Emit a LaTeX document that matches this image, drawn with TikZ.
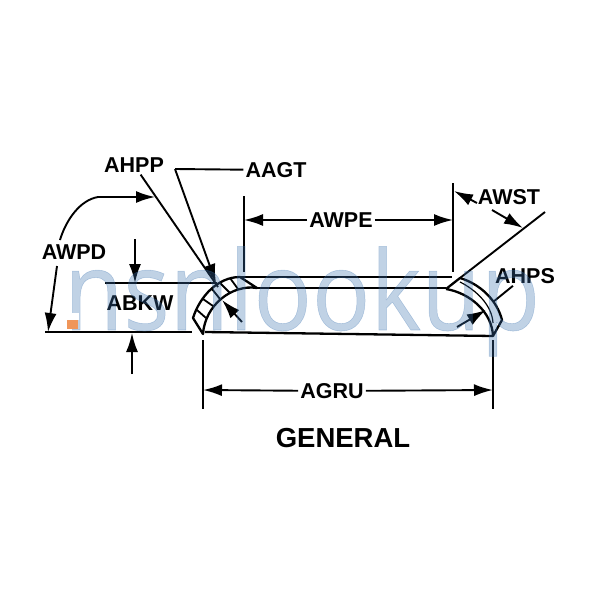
\documentclass[tikz,border=0pt]{standalone}
\usepackage{fontspec}
\setmainfont{Liberation Sans}
\newfontfamily\wmfont[FakeBold=0.5]{Open Sans}
\usetikzlibrary{arrows.meta}
\definecolor{wmblue}{RGB}{60,115,175}
\definecolor{wmorange}{RGB}{240,150,90}
\tikzset{>={Latex[length=19pt,width=12pt]}}
\tikzset{
lbl/.style={font=\fontsize{21.5}{21.5}\selectfont\bfseries, inner sep=2pt, text=black},
dim/.style={line width=1.9pt, ->},
ext/.style={line width=1.9pt},
part/.style={line width=2.3pt, line join=round}
}
\begin{document}
\begin{tikzpicture}[x=1pt,y=-1pt]
\useasboundingbox (0,0) rectangle (600,600);
% part outline
\draw[part] (240,277) -- (452,277);
\draw[part] (257,288) -- (446,288);
\draw[part] (205,332) -- (493,336);
\draw[part] (193,318) .. controls (200,296) and (218,277) .. (240,277) -- (257,288)
.. controls (232,284) and (205,305) .. (203,334) -- cycle;
\draw[part] (446,289) -- (460,278) .. controls (480,284) and (497,300) .. (502,320) -- (493,336)
.. controls (492,312) and (470,293) .. (446,289);
\draw[line width=1.2pt] (460,282) .. controls (476,290) and (492,305) .. (493,323);
\foreach \ax/\ay/\bx/\by in {197/310/206/318, 203/299/213/306, 212/289/220/299, 220/283/230/293, 230/278/238/289}
  \draw[line width=1.8pt] (\ax,\ay) -- (\bx,\by);
% labels
\node[lbl] (ahpp) at (134,165) {AHPP};
\node[lbl] (aagt) at (276,170) {AAGT};
\node[lbl] (awpe) at (341,220) {AWPE};
\node[lbl] (awst) at (509,197) {AWST};
\node[lbl] (awpd) at (74,252) {AWPD};
\node[lbl] (abkw) at (140,303) {ABKW};
\node[lbl] (ahps) at (525,276) {AHPS};
\node[lbl] (agru) at (332,391) {AGRU};
\node[font=\fontsize{27.5}{27.5}\selectfont\bfseries, inner sep=0pt] (general) at (343,438) {GENERAL};
% dimension points
\coordinate (agruA) at (203,340);
\coordinate (agruB) at (203,409);
\coordinate (agruC) at (493,340);
\coordinate (agruD) at (493,409);
\coordinate (agruL) at (203,390);
\coordinate (agruR) at (493,390);
\coordinate (awpeA) at (244,196);
\coordinate (awpeB) at (244,272);
\coordinate (awpeC) at (453,183);
\coordinate (awpeD) at (453,272);
\coordinate (awpeL) at (244,220);
\coordinate (awpeR) at (453,220);
\coordinate (awstA) at (545,212);
\coordinate (awstB) at (460,278);
\coordinate (awstL) at (454,191);
\coordinate (awstU) at (477,203);
\coordinate (awstR) at (523,228);
\coordinate (awstS) at (492,210);
\coordinate (ahppT) at (218,287);
\coordinate (aagtK) at (175,169);
\coordinate (aagtT) at (216,283);
\coordinate (awpdK) at (98,197);
\coordinate (awpdT) at (155,197);
\coordinate (awpdS) at (60,240);
\coordinate (awpdU) at (57,266);
\coordinate (awpdB) at (48,332);
\coordinate (basA) at (45,332);
\coordinate (basB) at (192,332);
\coordinate (topA) at (105,283);
\coordinate (topB) at (217,283);
\coordinate (abkwS) at (135,239);
\coordinate (abkwT) at (135,283);
\coordinate (abkwU) at (132,374);
\coordinate (abkwV) at (132,333);
\coordinate (ahppS) at (242,322);
\coordinate (ahppU) at (222,300);
\coordinate (ahpsK) at (493,302);
\coordinate (ahpsS) at (457,327);
\coordinate (ahpsT) at (486,310);
% connectors
\draw[ext] (agruA) -- (agruB);
\draw[ext] (agruC) -- (agruD);
\draw[dim] (agru) -- (agruL);
\draw[dim] (agru) -- (agruR);
\draw[ext] (awpeA) -- (awpeB);
\draw[ext] (awpeC) -- (awpeD);
\draw[dim] (awpe) -- (awpeL);
\draw[dim] (awpe) -- (awpeR);
\draw[ext] (awstA) -- (awstB);
\draw[dim] (awstU) -- (awstL);
\draw[dim] (awstS) -- (awstR);
\draw[ext] (ahpp) -- (ahppT);
\draw[dim] (ahppS) -- (ahppU);
\draw[ext] (aagt) -- (aagtK);
\draw[dim] (aagtK) -- (aagtT);
\draw[dim] (awpdS) .. controls (66,220) and (80,200) .. (awpdK) -- (awpdT);
\draw[dim] (awpdU) -- (awpdB);
\draw[ext] (basA) -- (basB);
\draw[ext] (topA) -- (topB);
\draw[dim] (abkwS) -- (abkwT);
\draw[dim] (abkwU) -- (abkwV);
\draw[ext] (ahps) -- (ahpsK);
\draw[dim] (ahpsS) -- (ahpsT);
% watermark
\node[font=\wmfont\fontsize{110}{110}\selectfont, text=wmblue, text opacity=0.32, inner sep=0pt, anchor=base, xscale=0.88] (wm) at (302,330) {nsnlookup};
\fill[white] (66,313) rectangle (79,320);
\fill[wmorange] (67,320) rectangle (78,329);
\end{tikzpicture}
\end{document}
